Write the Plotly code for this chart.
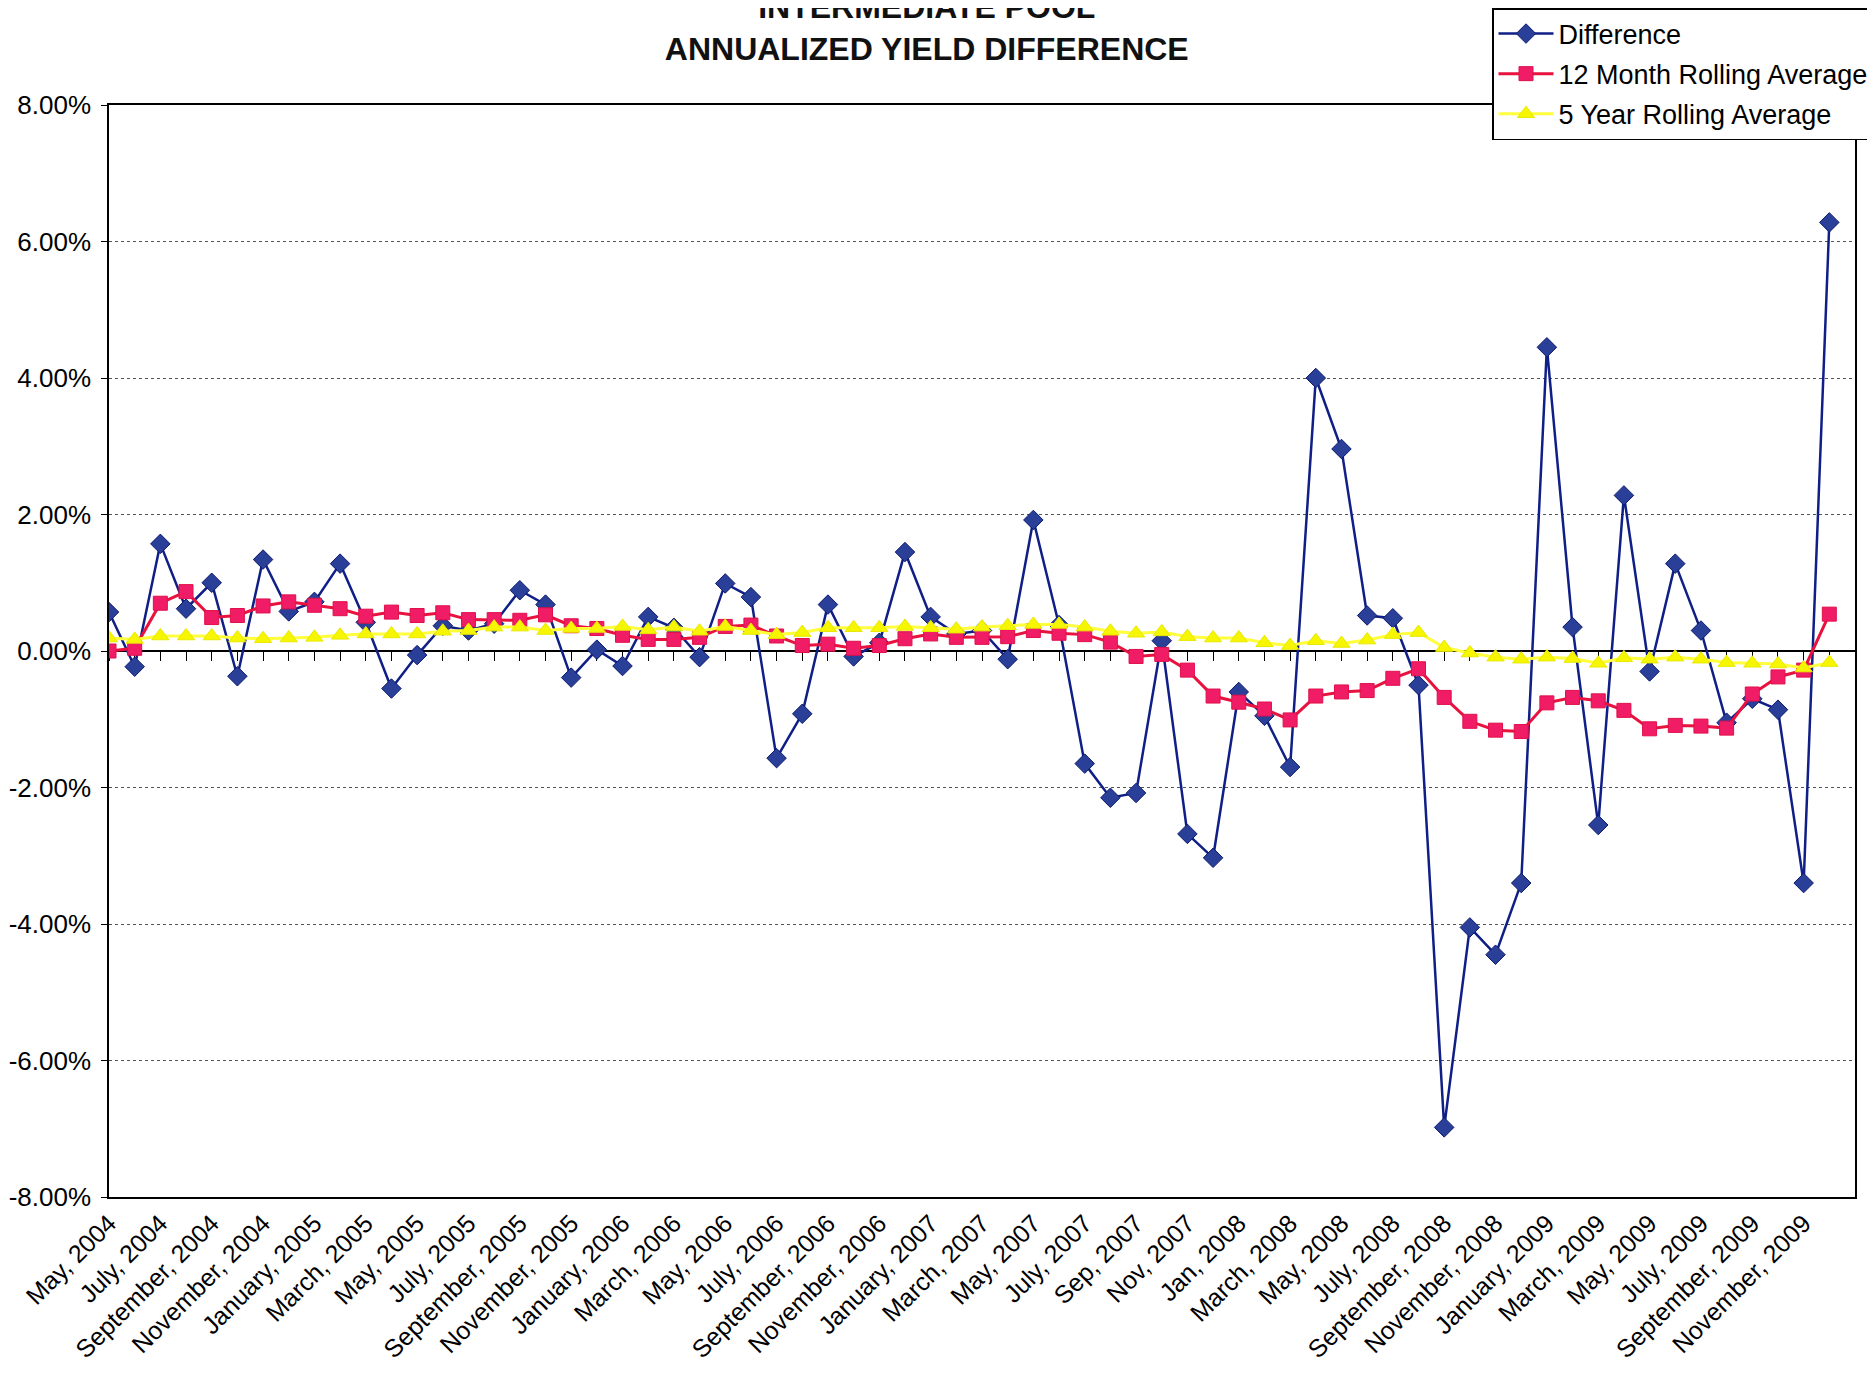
import plotly.graph_objects as go

months = ["May 2004", "Jun 2004", "Jul 2004", "Aug 2004", "Sep 2004", "Oct 2004", "Nov 2004", "Dec 2004",
          "Jan 2005", "Feb 2005", "Mar 2005", "Apr 2005", "May 2005", "Jun 2005", "Jul 2005", "Aug 2005",
          "Sep 2005", "Oct 2005", "Nov 2005", "Dec 2005",
          "Jan 2006", "Feb 2006", "Mar 2006", "Apr 2006", "May 2006", "Jun 2006", "Jul 2006", "Aug 2006",
          "Sep 2006", "Oct 2006", "Nov 2006", "Dec 2006",
          "Jan 2007", "Feb 2007", "Mar 2007", "Apr 2007", "May 2007", "Jun 2007", "Jul 2007", "Aug 2007",
          "Sep 2007", "Oct 2007", "Nov 2007", "Dec 2007",
          "Jan 2008", "Feb 2008", "Mar 2008", "Apr 2008", "May 2008", "Jun 2008", "Jul 2008", "Aug 2008",
          "Sep 2008", "Oct 2008", "Nov 2008", "Dec 2008",
          "Jan 2009", "Feb 2009", "Mar 2009", "Apr 2009", "May 2009", "Jun 2009", "Jul 2009", "Aug 2009",
          "Sep 2009", "Oct 2009", "Nov 2009", "Dec 2009"]

tick_labels = ["May, 2004", "July, 2004", "September, 2004", "November, 2004",
               "January, 2005", "March, 2005", "May, 2005", "July, 2005", "September, 2005", "November, 2005",
               "January, 2006", "March, 2006", "May, 2006", "July, 2006", "September, 2006", "November, 2006",
               "January, 2007", "March, 2007", "May, 2007", "July, 2007", "Sep, 2007", "Nov, 2007",
               "Jan, 2008", "March, 2008", "May, 2008", "July, 2008", "September, 2008", "November, 2008",
               "January, 2009", "March, 2009", "May, 2009", "July, 2009", "September, 2009", "November, 2009"]

# values in percent
difference = [0.57, -0.23, 1.57, 0.62, 1.00, -0.37, 1.34, 0.58, 0.72, 1.28, 0.42, -0.55,
              -0.06, 0.37, 0.30, 0.40, 0.89, 0.68, -0.39, 0.02, -0.22, 0.50, 0.34, -0.09,
              0.99, 0.79, -1.57, -0.92, 0.68, -0.08, 0.12, 1.45, 0.50, 0.25, 0.30, -0.12,
              1.92, 0.38, -1.65, -2.15, -2.08, 0.15, -2.68, -3.03, -0.60, -0.95, -1.70, 4.00,
              2.96, 0.52, 0.48, -0.50, -6.98, -4.05, -4.45, -3.40, 4.45, 0.35, -2.55, 2.28,
              -0.30, 1.28, 0.30, -1.05, -0.70, -0.86, -3.40, 6.28]

rolling_12m = [0.00, 0.04, 0.70, 0.87, 0.49, 0.52, 0.66, 0.72, 0.67, 0.62, 0.51, 0.57,
               0.52, 0.56, 0.46, 0.46, 0.45, 0.53, 0.37, 0.33, 0.23, 0.17, 0.17, 0.20,
               0.36, 0.38, 0.22, 0.08, 0.10, 0.04, 0.08, 0.18, 0.25, 0.20, 0.20, 0.21,
               0.30, 0.26, 0.24, 0.13, -0.08, -0.05, -0.28, -0.66, -0.75, -0.85, -1.01, -0.66,
               -0.60, -0.58, -0.40, -0.26, -0.68, -1.03, -1.16, -1.18, -0.76, -0.68, -0.73, -0.87,
               -1.14, -1.09, -1.10, -1.13, -0.63, -0.38, -0.28, 0.54]

rolling_5y = [0.19, 0.17, 0.22, 0.22, 0.22, 0.19, 0.18, 0.19, 0.20, 0.23, 0.25, 0.25,
              0.25, 0.29, 0.30, 0.35, 0.35, 0.30, 0.33, 0.33, 0.36, 0.31, 0.35, 0.29,
              0.36, 0.30, 0.24, 0.27, 0.34, 0.34, 0.34, 0.36, 0.34, 0.32, 0.35, 0.37,
              0.39, 0.39, 0.35, 0.29, 0.26, 0.28, 0.21, 0.19, 0.19, 0.12, 0.08, 0.15,
              0.11, 0.16, 0.24, 0.27, 0.05, -0.03, -0.09, -0.12, -0.09, -0.11, -0.18, -0.10,
              -0.12, -0.09, -0.12, -0.17, -0.18, -0.19, -0.25, -0.17]

y_ticks = [-8, -6, -4, -2, 0, 2, 4, 6, 8]
y_tick_text = ["-8.00%", "-6.00%", "-4.00%", "-2.00%", "0.00%", "2.00%", "4.00%", "6.00%", "8.00%"]

FONT = "Liberation Sans, Arial, sans-serif"

fig = go.Figure()
fig.add_trace(go.Scatter(
    x=months, y=difference, name="Difference", mode="lines+markers", legendgroup="a",
    line=dict(color="#0f1f86", width=2.5),
    marker=dict(symbol="diamond", size=15, color="#2a3f98", line=dict(color="#0d1a6e", width=1))))
fig.add_trace(go.Scatter(
    x=months, y=rolling_12m, name="12 Month Rolling Average", mode="lines+markers", legendgroup="b",
    line=dict(color="#e8123f", width=3),
    marker=dict(symbol="square", size=14, color="#f01c66", line=dict(color="#e0104a", width=1))))
fig.add_trace(go.Scatter(
    x=months, y=rolling_5y, name="5 Year Rolling Average", mode="lines+markers", legendgroup="c",
    xaxis="x2",
    line=dict(color="#ffff3c", width=3),
    marker=dict(symbol="triangle-up", size=15, color="#f6f600", line=dict(color="#e8e800", width=1))))

fig.update_layout(
    width=1875, height=1400,
    paper_bgcolor="white", plot_bgcolor="white",
    font=dict(family=FONT, color="black"),
    margin=dict(l=101, r=28, t=97, b=211, autoexpand=False),
    title=dict(text="<b>INTERMEDIATE POOL<br>ANNUALIZED YIELD DIFFERENCE</b>",
               x=0.490, xanchor="center", y=0.9926, yanchor="middle",
               font=dict(size=32, family=FONT, color="#111")),
    showlegend=True,
    legend=dict(xref="container", yref="container", x=0.9952, xanchor="right", y=1.0, yanchor="top",
                bgcolor="white", bordercolor="black", borderwidth=1.5,
                font=dict(size=27, family=FONT), traceorder="grouped", tracegroupgap=2,
                itemwidth=55),
    xaxis=dict(
        type="category", categoryorder="array", categoryarray=months,
        range=[0, 68], tickmode="array", tickvals=months[::2], ticktext=tick_labels,
        tickangle=-45, tickfont=dict(size=25, family=FONT), ticks="",
        showline=True, mirror=True, linecolor="black", linewidth=1.5, showgrid=False, zeroline=False,
        automargin=False),
    xaxis2=dict(
        type="category", categoryorder="array", categoryarray=months,
        overlaying="x", anchor="free", position=0.5, matches="x",
        range=[0, 68], tickmode="array", tickvals=months, ticks="outside", ticklen=9,
        tickcolor="black", tickwidth=1.2, showticklabels=False,
        showline=True, linecolor="black", linewidth=1.5, showgrid=False, zeroline=False,
        layer="below traces", automargin=False),
    yaxis=dict(
        range=[-8, 8], tickmode="array", tickvals=y_ticks, ticktext=y_tick_text,
        tickfont=dict(size=26, family=FONT), ticks="outside", ticklen=6, tickcolor="black",
        ticklabelstandoff=5,
        showline=True, mirror=True, linecolor="black", linewidth=1.5,
        showgrid=True, gridcolor="#555555", griddash="dot", gridwidth=1, zeroline=False,
        automargin=False),
)

fig.write_html("out.html")
